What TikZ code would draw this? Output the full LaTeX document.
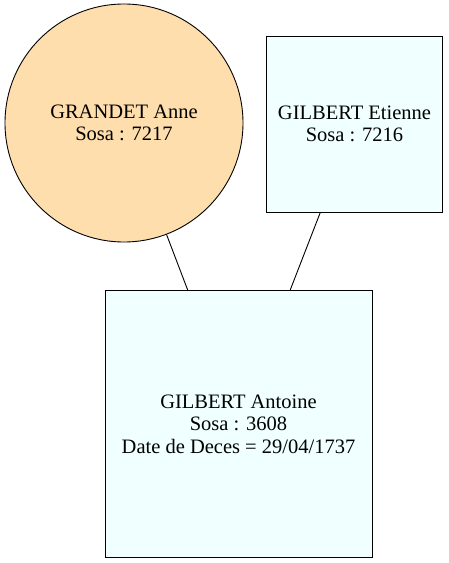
\documentclass[tikz,border=0pt]{standalone}
\usepackage{fontspec}
\setmainfont{Liberation Serif}
\definecolor{navajo}{HTML}{FFDEAD}
\definecolor{azurefill}{HTML}{F0FFFF}
\tikzset{
  person/.style={draw=black, line width=0.9pt, inner sep=0pt, align=center,
    font=\fontsize{20.5}{22.6}\selectfont},
  boxnode/.style={person, rectangle, fill=azurefill},
  circnode/.style={person, circle, fill=navajo},
  link/.style={draw=black, line width=0.9pt}
}
\begin{document}
\begin{tikzpicture}[x=1pt,y=1pt]
\useasboundingbox (0,0) rectangle (448,563);
\node[circnode, minimum size=238pt] (anne) at (124,440) {GRANDET Anne\\Sosa : 7217};
\node[boxnode, minimum width=176pt, minimum height=176pt] (etienne) at (354.5,439) {GILBERT Etienne\\Sosa : 7216};
\node[boxnode, minimum width=267pt, minimum height=267pt] (antoine) at (238.5,139) {GILBERT Antoine\\Sosa : 3608\\Date de Deces = 29/04/1737};
\draw[link] (anne) -- (antoine);
\draw[link] (etienne) -- (antoine);
\end{tikzpicture}
\end{document}
